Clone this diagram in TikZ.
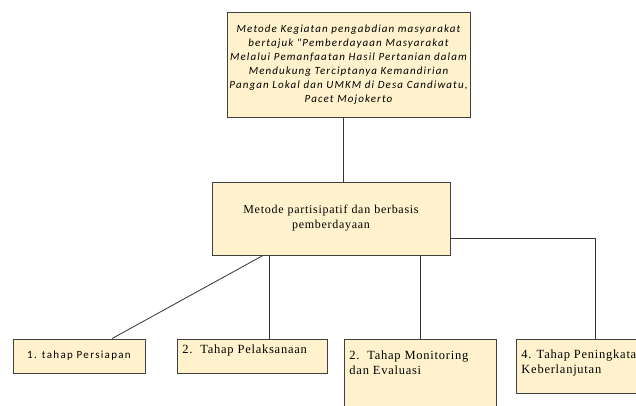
\documentclass[tikz,border=0pt]{standalone}
\usepackage{fontspec}
\setmainfont{Liberation Serif}
\newfontfamily\carlito{Carlito}
\usetikzlibrary{shadows}
\definecolor{boxfill}{HTML}{FFF2CC}
\definecolor{boxline}{HTML}{404040}

\begin{document}
\begin{tikzpicture}[x=1pt, y=-1pt,
    box/.style={draw=boxline, line width=0.9pt, fill=boxfill,
        drop shadow={shadow xshift=1pt, shadow yshift=-1pt, fill=black!25}},
    link/.style={draw=black!80, line width=0.8pt},
    stagefont/.style={font={\addfontfeatures{LetterSpace=6}\fontsize{12.5}{15}\selectfont}}]
    \useasboundingbox (0,0) rectangle (636,405);

    % Top box
    \node[box, minimum width=243pt, minimum height=105pt, text width=242pt, inner xsep=0pt,
        align=center,
        font={\carlito\itshape\addfontfeatures{LetterSpace=10}\fontsize{11}{14}\selectfont}]
        (judul) at (348.5,64.5)
        {Metode Kegiatan pengabdian masyarakat\\
         bertajuk "Pemberdayaan Masyarakat\\
         Melalui Pemanfaatan Hasil Pertanian dalam\\
         Mendukung Terciptanya Kemandirian\\
         Pangan Lokal dan UMKM di Desa Candiwatu,\\
         Pacet Mojokerto};

    % Middle box
    \node[box, minimum width=238pt, minimum height=73pt, text width=230pt, align=center,
        font={\addfontfeatures{LetterSpace=6}\fontsize{12}{15}\selectfont}]
        (metode) at (331,218.5)
        {Metode partisipatif dan berbasis\\ pemberdayaan};

    % Stage boxes
    \node[box, minimum width=132pt, minimum height=34pt,
        font={\carlito\addfontfeatures{LetterSpace=12}\fontsize{11}{12}\selectfont}]
        (tahap1) at (79,356) {1. tahap Persiapan};
    \node[box, anchor=north west, inner sep=5pt, stagefont]
        (tahap2) at (177,339) {\parbox[t][24pt][t]{140pt}{2.\ \ Tahap Pelaksanaan}};
    \node[box, anchor=north west, inner sep=5pt, stagefont]
        (tahap3) at (344,339) {\parbox[t][61pt][t]{142pt}{\vspace{6pt}2.\ \ Tahap Monitoring\\ dan Evaluasi}};
    \node[box, anchor=north west, inner sep=5pt, stagefont]
        (tahap4) at (516,339) {\parbox[t][44pt][t]{148pt}{\vspace{5pt}4. Tahap Peningkatan\\ Keberlanjutan}};

    % Connectors
    \draw[link] ([xshift=-5pt]judul.south) -- ([xshift=-5pt]judul.south |- metode.north);
    \draw[link] ([xshift=-68pt]metode.south) -- ([xshift=33pt]tahap1.north);
    \draw[link] ([xshift=17pt]tahap2.north |- metode.south) -- ([xshift=17pt]tahap2.north);
    \draw[link] (tahap3.north |- metode.south) -- (tahap3.north);
    \draw[link] ([yshift=-20pt]metode.east) -| (tahap4.north);
\end{tikzpicture}
\end{document}
